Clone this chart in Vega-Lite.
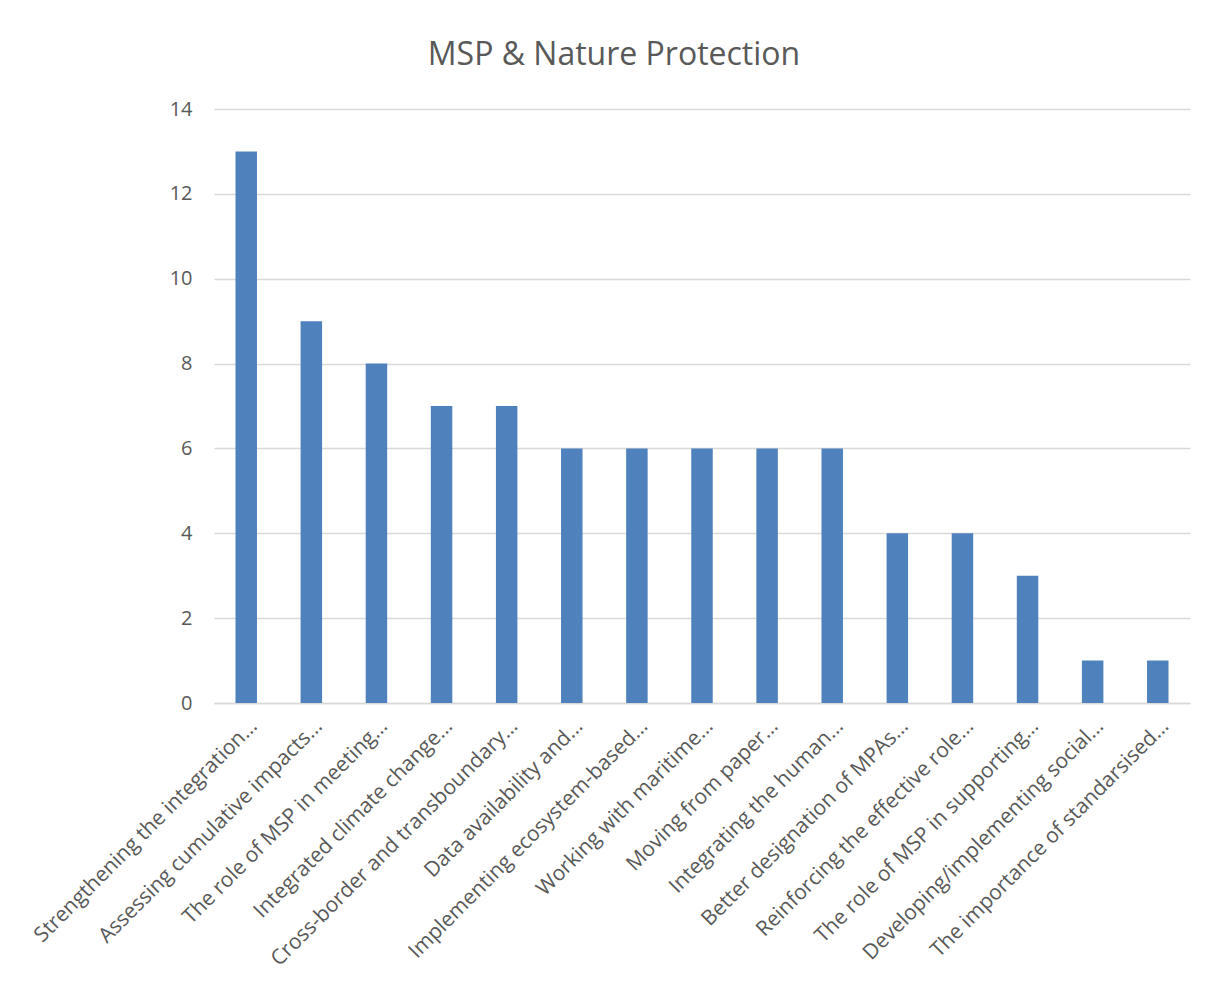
{
  "$schema": "https://vega.github.io/schema/vega-lite/v6.json",
  "width": 976,
  "height": 594,
  "autosize": {"type": "none"},
  "padding": {"left": 214, "top": 109, "right": 26, "bottom": 282},
  "background": "white",
  "title": {
    "text": "MSP & Nature Protection",
    "font": "Open Sans",
    "fontSize": 32,
    "fontWeight": "normal",
    "color": "#595959",
    "anchor": "middle",
    "dx": -88,
    "offset": 27
  },
  "data": {
    "values": [
      {"topic": "Strengthening the integration…", "count": 13},
      {"topic": "Assessing cumulative impacts…", "count": 9},
      {"topic": "The role of MSP in meeting…", "count": 8},
      {"topic": "Integrated climate change…", "count": 7},
      {"topic": "Cross-border and transboundary…", "count": 7},
      {"topic": "Data availability and…", "count": 6},
      {"topic": "Implementing ecosystem-based…", "count": 6},
      {"topic": "Working with maritime…", "count": 6},
      {"topic": "Moving from paper…", "count": 6},
      {"topic": "Integrating the human…", "count": 6},
      {"topic": "Better designation of MPAs…", "count": 4},
      {"topic": "Reinforcing the effective role…", "count": 4},
      {"topic": "The role of MSP in supporting…", "count": 3},
      {"topic": "Developing/implementing social…", "count": 1},
      {"topic": "The importance of standarsised…", "count": 1}
    ]
  },
  "mark": {"type": "bar", "color": "#4F81BD"},
  "encoding": {
    "x": {
      "field": "topic",
      "type": "nominal",
      "sort": null,
      "scale": {"paddingInner": 0.67, "paddingOuter": 0.33},
      "axis": {
        "title": null,
        "labelAngle": -45,
        "labelAlign": "right",
        "labelBaseline": "top",
        "labelPadding": 12,
        "labelFont": "Open Sans",
        "labelFontSize": 21,
        "labelColor": "#595959",
        "labelLimit": 600,
        "ticks": false,
        "domainColor": "#D9D9D9",
        "domainWidth": 1.5,
        "grid": false
      }
    },
    "y": {
      "field": "count",
      "type": "quantitative",
      "scale": {"domain": [0, 14]},
      "axis": {
        "title": null,
        "values": [0, 2, 4, 6, 8, 10, 12, 14],
        "labelFont": "Open Sans",
        "labelFontSize": 20,
        "labelColor": "#595959",
        "labelPadding": 22,
        "ticks": false,
        "domain": false,
        "grid": true,
        "gridColor": "#D9D9D9",
        "gridWidth": 1.5
      }
    }
  },
  "config": {"view": {"stroke": null}}
}
